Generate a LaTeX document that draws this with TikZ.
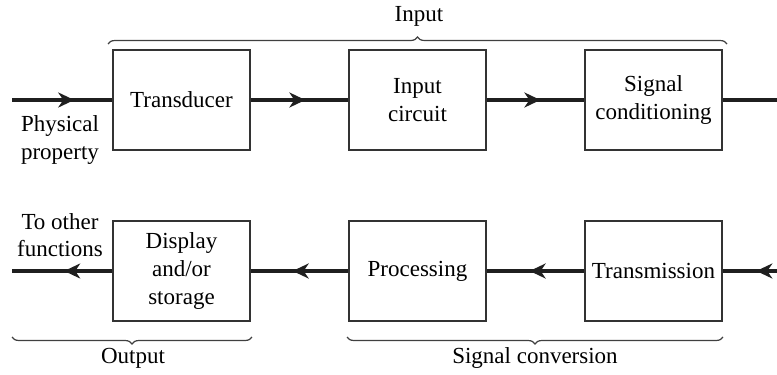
\documentclass[tikz,border=0pt]{standalone}
\usepackage{fontspec}
\setmainfont{Liberation Serif}
\usetikzlibrary{arrows.meta,decorations.markings,decorations.pathreplacing}

\begin{document}
\begin{tikzpicture}[x=0.5pt,y=-0.5pt,
  every node/.style={font=\fontsize{11.5}{13.8}\selectfont,align=center},
  box/.style={draw=black!80,line width=0.6pt,minimum width=68.5pt,minimum height=50pt,inner sep=0pt},
  flow/.style={line width=2pt,draw=black!88,postaction={decorate},
    decoration={markings,mark=at position #1 with {\arrow{Stealth[length=8pt,width=7.5pt,inset=2.5pt]}}}},
  brc/.style={draw=black!75,line width=0.6pt,decorate,decoration={brace,amplitude=3.5pt}}]
\useasboundingbox (0,0) rectangle (777,375);
% upper row
\coordinate (phys) at (12,100);\coordinate (topend) at (777,100);
\node[box] (trans) at (181.5,100) {Transducer};
\node[box] (incirc) at (417.5,100) {Input\\circuit};
\node[box] (sigcond) at (653.5,100) {Signal\\conditioning};
\draw[flow=0.62] (phys)--(trans);\draw[flow=0.56] (trans)--(incirc);
\draw[flow=0.55] (incirc)--(sigcond);\draw[line width=2pt,black!88] (sigcond)--(topend);
\node (physlbl) at (60,140) {Physical\\property};
% lower row
\coordinate (botstart) at (777,271);\coordinate (other) at (12,271);
\node[box] (disp) at (181.5,271) {Display\\and/or\\storage};
\node[box] (proc) at (417.5,271) {Processing};
\node[box] (trmis) at (653.5,271) {Transmission};
\draw[flow=0.38] (botstart)--(trmis);\draw[flow=0.56] (trmis)--(proc);
\draw[flow=0.57] (proc)--(disp);\draw[flow=0.48] (disp)--(other);
\node (otherlbl) at (60,235) {To other\\functions};
% braces
\draw[brc] (108,44)--(727,44);\node (inlbl) at (419,16) {Input};
\draw[brc] (252,337)--(12,337);\node (outlbl) at (133,358) {Output};
\draw[brc] (723,337)--(347,337);\node (convlbl) at (535,358) {Signal conversion};
\end{tikzpicture}
\end{document}
